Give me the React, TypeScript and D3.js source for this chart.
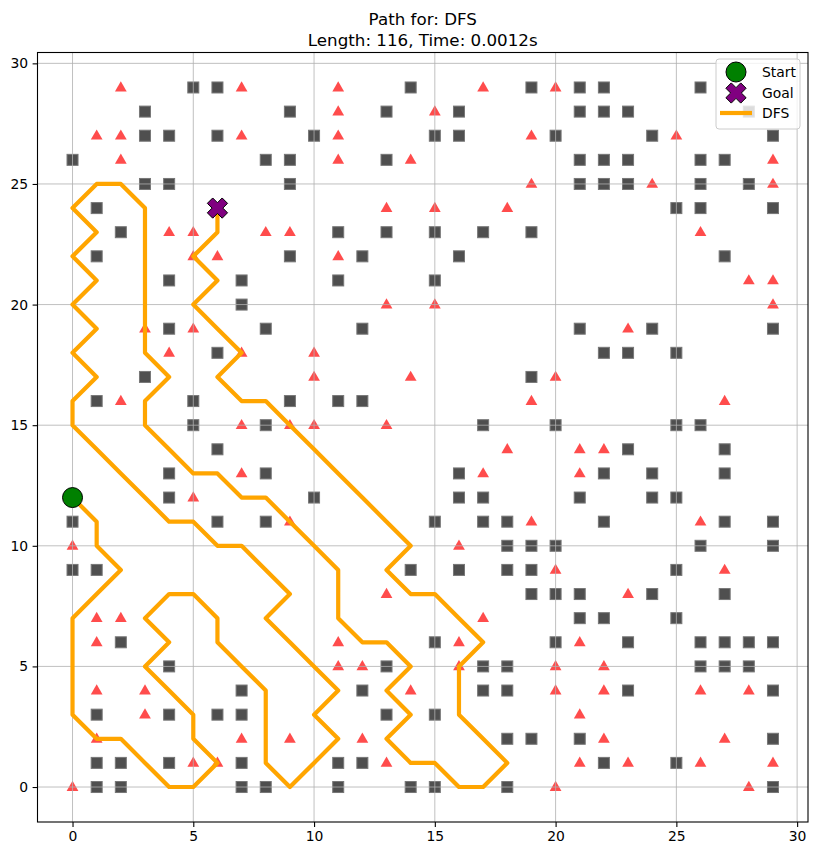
import { useEffect, useRef } from 'react';
import * as d3 from 'd3';

const WIDTH = 817;
const HEIGHT = 856;
const FONT = 'DejaVu Sans, sans-serif';

// grey squares, by row: [y, x values]
const squareRows: [number, number[]][] = [
  [29, [5, 6, 14, 19, 21, 22, 26]],
  [28, [3, 9, 13, 16, 21, 22, 23, 28]],
  [27, [3, 4, 6, 10, 15, 16, 20, 24, 29]],
  [26, [0, 8, 9, 13, 21, 22, 23, 26, 27]],
  [25, [3, 4, 9, 21, 22, 23, 26, 28]],
  [24, [1, 25, 26, 29]],
  [23, [2, 11, 13, 15, 17, 19]],
  [22, [1, 9, 12, 16, 27]],
  [21, [4, 7, 11, 15]],
  [20, [7]],
  [19, [4, 8, 12, 21, 24, 29]],
  [18, [6, 22, 23, 25]],
  [17, [3, 19]],
  [16, [1, 5, 9, 11, 12]],
  [15, [5, 8, 17, 20, 25, 26]],
  [14, [6, 23, 27]],
  [13, [4, 8, 16, 22, 24, 27]],
  [12, [4, 10, 16, 17, 21, 24, 25]],
  [11, [0, 6, 8, 15, 17, 18, 22, 27, 29]],
  [10, [18, 19, 20, 26, 29]],
  [9, [0, 1, 14, 16, 18, 19, 25]],
  [8, [19, 20, 21, 24, 27]],
  [7, [21, 22, 25]],
  [6, [2, 15, 20, 23, 26, 27, 28, 29]],
  [5, [4, 13, 17, 18, 26, 27, 28]],
  [4, [7, 12, 17, 18, 23, 29]],
  [3, [1, 4, 6, 7, 13, 15]],
  [2, [18, 19, 21, 29]],
  [1, [1, 2, 4, 7, 11, 12, 22, 25]],
  [0, [1, 2, 7, 8, 11, 14, 15, 18, 29]],
];

// red triangles, by row: [y, x values]
const triangleRows: [number, number[]][] = [
  [29, [2, 7, 11, 17, 20]],
  [28, [11, 15]],
  [27, [1, 2, 7, 11, 19, 25]],
  [26, [2, 11, 14, 29]],
  [25, [19, 24, 29]],
  [24, [13, 15, 18]],
  [23, [4, 5, 8, 9, 26]],
  [22, [5, 6, 11]],
  [21, [28, 29]],
  [20, [13, 15, 29]],
  [19, [3, 5, 23]],
  [18, [4, 7, 10]],
  [17, [10, 14, 20]],
  [16, [2, 19, 27]],
  [15, [7, 9, 10, 13]],
  [14, [18, 21, 22]],
  [13, [7, 17, 21]],
  [12, [5]],
  [11, [9, 19, 26]],
  [10, [0, 16]],
  [9, [20, 27]],
  [8, [13, 23]],
  [7, [1, 2, 17]],
  [6, [1, 11, 16, 21]],
  [5, [11, 12, 16, 20, 22]],
  [4, [1, 3, 14, 20, 22, 26, 28]],
  [3, [3, 21]],
  [2, [1, 7, 9, 12, 22, 27]],
  [1, [5, 6, 13, 21, 23, 26, 29]],
  [0, [0, 20, 28]],
];

// DFS path, start -> goal
const dfsPath: [number, number][] = [
  [0, 12], [1, 11], [1, 10], [2, 9], [1, 8], [0, 7], [0, 6], [0, 5], [0, 4], [0, 3],
  [1, 2], [2, 2], [3, 1], [4, 0], [5, 0], [6, 1], [5, 2], [5, 3], [4, 4], [3, 5],
  [4, 6], [3, 7], [4, 8], [5, 8], [6, 7], [6, 6], [7, 5], [8, 4], [8, 3], [8, 2],
  [8, 1], [9, 0], [10, 1], [11, 2], [10, 3], [11, 4], [10, 5], [9, 6], [8, 7], [9, 8],
  [8, 9], [7, 10], [6, 10], [5, 11], [4, 11], [3, 12], [2, 13], [1, 14], [0, 15], [0, 16],
  [1, 17], [0, 18], [1, 19], [0, 20], [1, 21], [0, 22], [1, 23], [0, 24], [1, 25], [2, 25],
  [3, 24], [3, 23], [3, 22], [3, 21], [3, 20], [3, 19], [3, 18], [4, 17], [3, 16], [3, 15],
  [4, 14], [5, 13], [6, 13], [7, 12], [8, 12], [9, 11], [10, 10], [11, 9], [11, 8], [11, 7],
  [12, 6], [13, 6], [14, 5], [13, 4], [14, 3], [13, 2], [14, 1], [15, 1], [16, 0], [17, 0],
  [18, 1], [17, 2], [16, 3], [16, 4], [16, 5], [17, 6], [16, 7], [15, 8], [14, 8], [13, 9],
  [14, 10], [13, 11], [12, 12], [11, 13], [10, 14], [9, 15], [8, 16], [7, 16], [6, 17], [7, 18],
  [6, 19], [5, 20], [6, 21], [5, 22], [6, 23], [6, 24],
];

const startCell: [number, number] = [0, 12];
const goalCell: [number, number] = [6, 24];
const tickValues = [0, 5, 10, 15, 20, 25, 30];
const titleLines = ['Path for: DFS', 'Length: 116, Time: 0.0012s'];
const legendLabels = ['Start', 'Goal', 'DFS'];

// filled "X" marker, like matplotlib's
function xMarkerPath(r: number, w: number) {
  const pts: [number, number][] = [
    [-w, r], [w, r], [w, w], [r, w], [r, -w], [w, -w],
    [w, -r], [-w, -r], [-w, -w], [-r, -w], [-r, w], [-w, w],
  ];
  const c = Math.SQRT1_2;
  return 'M' + pts.map(([a, b]) => `${(a - b) * c},${(a + b) * c}`).join('L') + 'Z';
}

const flatten = (rows: [number, number[]][]) =>
  rows.flatMap(([y, xs]) => xs.map((x) => [x, y] as [number, number]));

export default function App() {
  const svgRef = useRef<SVGSVGElement>(null);

  useEffect(() => {
    if (!svgRef.current) return;
    const svg = d3.select(svgRef.current);
    svg.selectAll('*').remove();

    const left = 37.5, right = 808, top = 52.5, bottom = 822;
    const x = d3.scaleLinear().domain([-1.45, 30.45]).range([left, right]);
    const y = d3.scaleLinear().domain([-1.45, 30.45]).range([bottom, top]);

    svg.append('rect').attr('width', WIDTH).attr('height', HEIGHT).attr('fill', '#fff');

    // Obstacles
    const sq = 11;
    svg.append('g')
      .selectAll('rect')
      .data(flatten(squareRows))
      .enter()
      .append('rect')
      .attr('x', (d) => x(d[0]) - sq / 2)
      .attr('y', (d) => y(d[1]) - sq / 2)
      .attr('width', sq)
      .attr('height', sq)
      .attr('fill', '#4f4f4f')
      .attr('stroke', '#777')
      .attr('stroke-width', 1);

    const tri = d3.symbol().type(d3.symbolTriangle).size(60);
    svg.append('g')
      .selectAll('path')
      .data(flatten(triangleRows))
      .enter()
      .append('path')
      .attr('d', tri)
      .attr('transform', (d) => `translate(${x(d[0])},${y(d[1]) + 0.5})`)
      .attr('fill', '#ff0000')
      .attr('fill-opacity', 0.7);

    // Grid (drawn over the scatter, as in matplotlib)
    const grid = svg.append('g').attr('stroke', '#b0b0b0').attr('stroke-width', 0.8);
    tickValues.forEach((t) => {
      grid.append('line').attr('x1', x(t)).attr('x2', x(t)).attr('y1', top).attr('y2', bottom);
      grid.append('line').attr('x1', left).attr('x2', right).attr('y1', y(t)).attr('y2', y(t));
    });

    // Path
    const line = d3.line<[number, number]>().x((d) => x(d[0])).y((d) => y(d[1]));
    svg.append('path')
      .attr('d', line(dfsPath))
      .attr('fill', 'none')
      .attr('stroke', '#ffa500')
      .attr('stroke-width', 4.2)
      .attr('stroke-linejoin', 'round');

    // Start / goal
    svg.append('circle')
      .attr('cx', x(startCell[0]))
      .attr('cy', y(startCell[1]))
      .attr('r', 10)
      .attr('fill', '#008000')
      .attr('stroke', '#000')
      .attr('stroke-width', 1);
    svg.append('path')
      .attr('d', xMarkerPath(10.5, 3.8))
      .attr('transform', `translate(${x(goalCell[0])},${y(goalCell[1])})`)
      .attr('fill', '#800080')
      .attr('stroke', '#000')
      .attr('stroke-width', 1);

    // Axes frame and ticks
    svg.append('rect')
      .attr('x', left).attr('y', top)
      .attr('width', right - left).attr('height', bottom - top)
      .attr('fill', 'none').attr('stroke', '#000').attr('stroke-width', 1.1);

    const xAxis = svg.append('g')
      .attr('transform', `translate(0,${bottom})`)
      .call(d3.axisBottom(x).tickValues(tickValues).tickSize(4.9).tickPadding(4.5).tickFormat(d3.format('d')));
    xAxis.select('.domain').remove();
    xAxis.selectAll('line').attr('stroke-width', 1.1);
    xAxis.selectAll('text').attr('font-size', 13.9).attr('font-family', FONT).attr('fill', '#000');

    const yAxis = svg.append('g')
      .attr('transform', `translate(${left},0)`)
      .call(d3.axisLeft(y).tickValues(tickValues).tickSize(4.9).tickPadding(4.5).tickFormat(d3.format('d')));
    yAxis.select('.domain').remove();
    yAxis.selectAll('line').attr('stroke-width', 1.1);
    yAxis.selectAll('text').attr('font-size', 13.9).attr('font-family', FONT).attr('fill', '#000');

    // Title
    svg.append('g')
      .selectAll('text')
      .data(titleLines)
      .enter()
      .append('text')
      .attr('x', (left + right) / 2)
      .attr('y', (_, i) => 25 + i * 20.5)
      .attr('text-anchor', 'middle')
      .attr('font-family', FONT)
      .attr('font-size', 16.7)
      .text((d) => d);

    // Legend
    const lg = svg.append('g').attr('transform', 'translate(716,59)');
    lg.append('rect')
      .attr('width', 84).attr('height', 70).attr('rx', 3)
      .attr('fill', '#fff').attr('fill-opacity', 0.8)
      .attr('stroke', '#ccc').attr('stroke-width', 1);
    const rowY = [13, 34, 54];
    lg.append('circle')
      .attr('cx', 20).attr('cy', rowY[0]).attr('r', 10)
      .attr('fill', '#008000').attr('stroke', '#000');
    lg.append('path')
      .attr('d', xMarkerPath(10.5, 3.8))
      .attr('transform', `translate(20,${rowY[1]})`)
      .attr('fill', '#800080').attr('stroke', '#000');
    lg.append('line')
      .attr('x1', 4).attr('x2', 36).attr('y1', rowY[2]).attr('y2', rowY[2])
      .attr('stroke', '#ffa500').attr('stroke-width', 4.2);
    lg.selectAll('text.lab')
      .data(legendLabels)
      .enter()
      .append('text')
      .attr('x', 46)
      .attr('y', (_, i) => rowY[i] + 5)
      .attr('font-family', FONT)
      .attr('font-size', 13.9)
      .text((d) => d);
  }, []);

  return (
    <svg
      ref={svgRef}
      width={WIDTH}
      height={HEIGHT}
      style={{ position: 'absolute', left: 0, top: 0 }}
    />
  );
}
